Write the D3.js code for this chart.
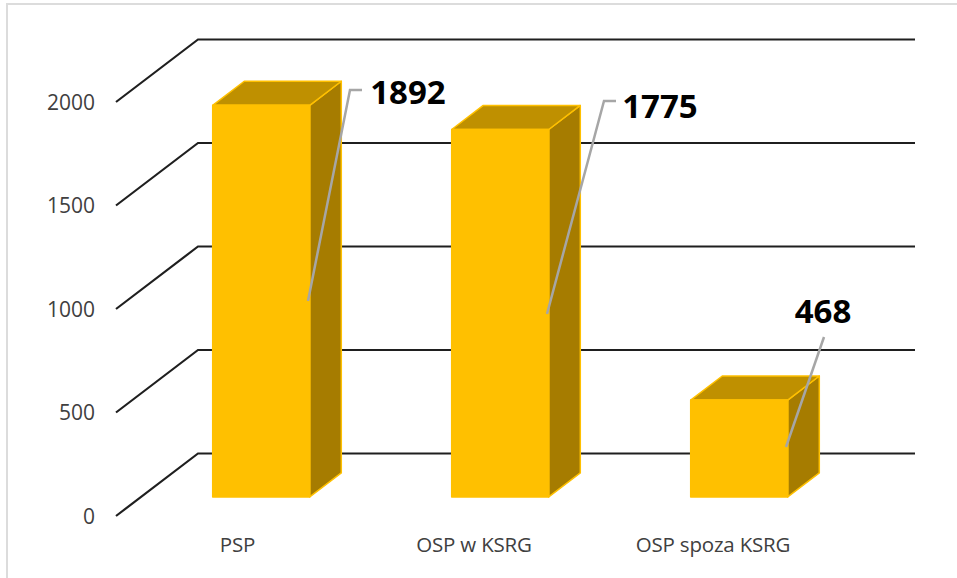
<!DOCTYPE html>
<html>
<head>
<meta charset="utf-8">
<script src="https://cdn.jsdelivr.net/npm/d3@7"></script>
<style>
    html, body { margin: 0; padding: 0; background: #ffffff; }
    svg { display: block; }
</style>
</head>
<body>
<div id="div_placeholder"></div>
<script>
    var categories = ["PSP", "OSP w KSRG", "OSP spoza KSRG"];
    var values = [1892, 1775, 468];
    var yTicks = [0, 500, 1000, 1500, 2000];

    //variabelen voor svg
    var width = 957;
    var height = 578;

    var colFront = "#ffc000";
    var colTop = "#bf9000";
    var colSide = "#a67c00";

    // front plane of the 3d box, the back wall is shifted by depthX/depthY
    var depthX = 82;
    var depthY = -62.5;

    var x = d3.scaleBand()
        .domain(categories)
        .range([116.7, 833.7])
        .paddingInner(0.594)
        .paddingOuter(0.297);

    var y = d3.scaleLinear()
        .domain([0, 2000])
        .range([516, 102]);

    // bars stand between these two depths (0 = front, 1 = back wall)
    var barFront = 0.305;
    var barBack = 0.69;

    function project(px, value, depth) {
        return [px + depthX * depth, y(value) + depthY * depth];
    }

    var line = d3.line();

    var svg = d3.select("#div_placeholder")
        .append("svg")
        .attr("width", width)
        .attr("height", height);

    // frame of the screenshot, only top and left are visible
    svg.append("path")
        .attr("d", "M7,578V4H957")
        .attr("fill", "none")
        .attr("stroke", "#dcdcdc")
        .attr("stroke-width", 2);

    var layerGrid = svg.append("g");

    yTicks.forEach(function (t) {
        var points = [
            project(116, t, 0),
            project(116, t, 1),
            project(833, t, 1)
        ];
        layerGrid.append("path")
            .attr("d", line(points))
            .attr("fill", "none")
            .attr("stroke", "#1f1f1f")
            .attr("stroke-width", 2.2);

        layerGrid.append("text")
            .attr("x", 95)
            .attr("y", y(t))
            .attr("dy", "0.36em")
            .attr("text-anchor", "end")
            .style("font-family", "Open Sans, Arial")
            .style("font-size", "21px")
            .style("fill", "#404040")
            .text(t);
    });

    var layerBars = svg.append("g");

    categories.forEach(function (c, i) {
        var x0 = x(c);
        var x1 = x0 + x.bandwidth();
        var v = values[i];

        var faces = [
            { color: colSide, points: [project(x1, 0, barFront), project(x1, 0, barBack), project(x1, v, barBack), project(x1, v, barFront)] },
            { color: colTop, points: [project(x0, v, barFront), project(x0, v, barBack), project(x1, v, barBack), project(x1, v, barFront)] },
            { color: colFront, points: [project(x0, 0, barFront), project(x1, 0, barFront), project(x1, v, barFront), project(x0, v, barFront)] }
        ];

        faces.forEach(function (f) {
            layerBars.append("path")
                .attr("d", line(f.points) + "Z")
                .attr("fill", f.color)
                .attr("stroke", colFront)
                .attr("stroke-width", 1.5)
                .attr("stroke-linejoin", "round");
        });

        // category label, sits under the bar
        svg.append("text")
            .attr("x", [237.5, 474, 713][i])
            .attr("y", 552)
            .attr("text-anchor", "middle")
            .style("font-family", "Open Sans, Arial")
            .style("font-size", "20.5px")
            .style("letter-spacing", "-0.2px")
            .style("fill", "#404040")
            .text(c);
    });

    // leader lines and value labels
    var labelX = [408, 660, 823];
    var labelY = [103.5, 117.5, 323];
    var leaders = [
        [[308, 301], [350, 90], [362, 90]],
        [[547, 314], [604, 101], [616, 101]],
        [[786, 447], [824, 337]]
    ];

    var layerLabels = svg.append("g");

    values.forEach(function (v, i) {
        layerLabels.append("path")
            .attr("d", line(leaders[i]))
            .attr("fill", "none")
            .attr("stroke", "#a6a6a6")
            .attr("stroke-width", 2.5);

        layerLabels.append("text")
            .attr("x", labelX[i])
            .attr("y", labelY[i])
            .attr("text-anchor", "middle")
            .style("font-family", "Open Sans, Arial")
            .style("font-weight", "bold")
            .style("font-size", "33px")
            .style("fill", "#000000")
            .text(v);
    });
</script>
</body>
</html>
